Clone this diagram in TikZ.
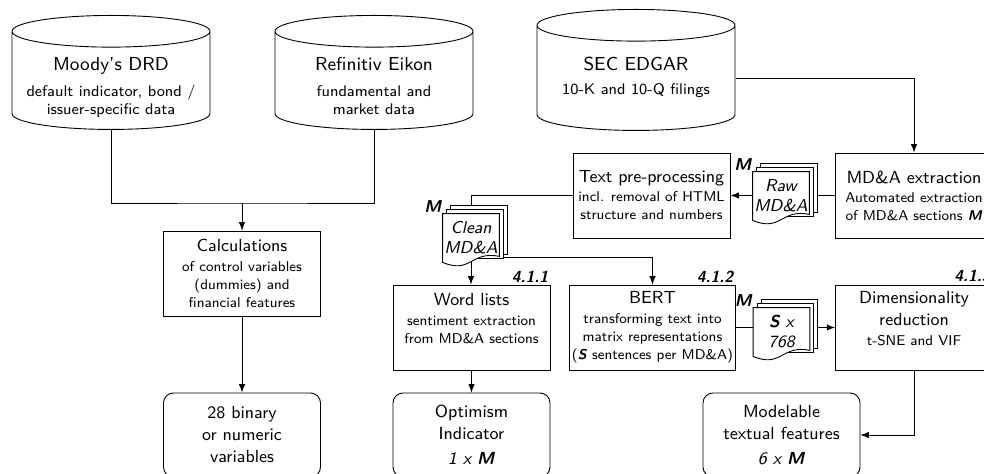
\documentclass[tikz,border=0pt]{standalone}
\usepackage{fontspec}
\renewcommand{\familydefault}{\sfdefault}
\usepackage{tikz}
\usetikzlibrary{shapes.geometric, backgrounds}

\newcommand{\hd}[1]{{\fontsize{8.75}{11}\selectfont #1}}
\newcommand{\srchd}[1]{{\fontsize{9.4}{11}\selectfont #1}}
\newcommand{\Mb}{\textbf{\textit{M}}}
\newcommand{\Sb}{\textbf{\textit{S}}}

\tikzset{
	stage/.style={draw, line width=0.45pt, fill=white, minimum width=78.5pt, minimum height=42.5pt,
		align=center, inner sep=1pt, font=\fontsize{7.1}{9}\selectfont},
	result/.style={stage, rounded corners=5pt, minimum height=42pt, font=\fontsize{8.75}{11}\selectfont},
	source/.style={cylinder, shape border rotate=90, aspect=0.16, draw, line width=0.45pt, fill=white,
		minimum width=99pt, minimum height=57pt, inner sep=0pt, anchor=north},
	srctext/.style={anchor=north, align=center, inner sep=0pt, font=\fontsize{7.7}{9}\selectfont},
	doc/.style={minimum width=28pt, minimum height=24pt, inner sep=0pt, align=center,
		font=\fontsize{8.6}{10}\selectfont\itshape},
	sheet/.style={draw, line width=0.45pt, fill=white},
	secnum/.style={anchor=south east, inner sep=1pt, font=\fontsize{8}{9}\selectfont\bfseries\itshape},
	mlabel/.style={anchor=south east, inner sep=0.5pt, font=\fontsize{8.6}{9}\selectfont\bfseries\itshape},
	flow/.style={-latex, line width=0.45pt},
	link/.style={line width=0.45pt},
}

% stack of documents behind node #1
\newcommand{\docstack}[1]{%
	\foreach \off in {4,2} {
		\draw[sheet] ([xshift=\off pt,yshift=\off pt]#1.south west) rectangle ([xshift=\off pt,yshift=\off pt]#1.north east);
	}
	\draw[sheet] (#1.north west) -- (#1.north east) -- ([yshift=3pt]#1.south east)
		.. controls ([yshift=6pt]#1.south) and ([yshift=-6pt]#1.south) .. (#1.south west) -- cycle;
}

\begin{document}
\begin{tikzpicture}[x=0.5pt, y=-0.5pt]
	\useasboundingbox (0,0) rectangle (984,474);
	\clip (0,0) rectangle (984,474);

	% data sources
	\node[source] (moodys) at (111,15) {\rule{99pt}{0pt}};
	\node[source] (refinitiv) at (374,15) {\rule{99pt}{0pt}};
	\node[source, minimum height=60.5pt] (edgar) at (636,9) {\rule{99pt}{0pt}};
	\node[srctext] (moodystext) at ([yshift=-21pt]moodys.north) {\srchd{Moody's DRD}\\[4pt] default indicator, bond /\\ issuer-specific data};
	\node[srctext] (refinitivtext) at ([yshift=-21pt]refinitiv.north) {\srchd{Refinitiv Eikon}\\[4pt] fundamental and\\ market data};
	\node[srctext] (edgartext) at ([yshift=-24pt]edgar.north) {\srchd{SEC EDGAR}\\[3pt] 10-K and 10-Q filings};

	% financial branch
	\coordinate (join) at (242,203);
	\node[stage] (calc) at (242,273.5) {\hd{Calculations}\\[1pt] of control variables\\ (dummies) and\\ financial features};
	\node[result] (controls) at (242,435) {28 binary\\ or numeric\\ variables};

	% text branch
	\node[stage] (extract) at (914,195.5) {\hd{MD\&A extraction}\\[0.5pt] Automated extraction\\ of MD\&A sections \Mb};
	\node[stage] (prep) at (651.5,195.5) {\hd{Text pre-processing}\\[0.5pt] incl. removal of HTML\\ structure and numbers};
	\node[doc] (raw) at (781,196) {Raw\\ MD\&A};
	\node[doc] (clean) at (471,238) {Clean\\ MD\&A};
	\node[stage] (words) at (471.5,327.5) {\hd{Word lists}\\[1pt] sentiment extraction\\ from MD\&A sections\\ \mbox{}};
	\node[stage] (bert) at (652.5,327.5) {\hd{BERT}\\[1pt] transforming text into\\ matrix representations\\ (\Sb\ sentences per MD\&A)};
	\node[doc] (vectors) at (781.5,332) {{\bfseries S} x\\ 768};
	\node[stage] (dimred) at (914,327.5) {\hd{Dimensionality}\\[2pt] \hd{reduction}\\[1pt] t-SNE and VIF\\ \mbox{}};
	\node[result] (optim) at (471.5,435) {Optimism\\ Indicator\\[1.5pt] \textit{1 x \textbf{M}}};
	\node[result] (textfeat) at (781.5,435) {Modelable\\ textual features\\[1.5pt] \textit{6 x \textbf{M}}};

	\node[secnum] (sec411) at (words.north east) {4.1.1};
	\node[secnum] (sec412) at (bert.north east) {4.1.2};
	\node[secnum] (sec413) at (dimred.north east) {4.1.3};
	\node[mlabel] (rawM) at (raw.north west) {M};
	\node[mlabel] (cleanM) at (clean.north west) {M};
	\node[mlabel] (vectorsM) at (vectors.north west) {M};

	\begin{scope}[on background layer]
		\draw[link] (moodys.south) |- (join) -| (refinitiv.south);
		\draw[flow] (join) -- (calc);
		\draw[flow] (calc) -- (controls);
		\draw[flow] (edgar.east) -| (extract.north);
		\draw[link] (extract.west) -- (raw.east |- extract.west);
		\draw[flow] (raw.west |- prep.east) -- (prep.east);
		\draw[link] (prep.west) -| (clean.north);
		\draw[flow] (clean.south) -- (clean.south |- words.north);
		\draw[flow] ([yshift=2.5pt]clean.south east) -| (bert.north);
		\draw[flow] (words) -- (optim);
		\draw[link] (bert.east) -- (vectors.west |- bert.east);
		\draw[flow] (vectors.east |- dimred.west) -- (dimred.west);
		\draw[flow] (dimred.south) |- (textfeat.east);
		\docstack{raw}
		\docstack{clean}
		\docstack{vectors}
	\end{scope}
\end{tikzpicture}
\end{document}
